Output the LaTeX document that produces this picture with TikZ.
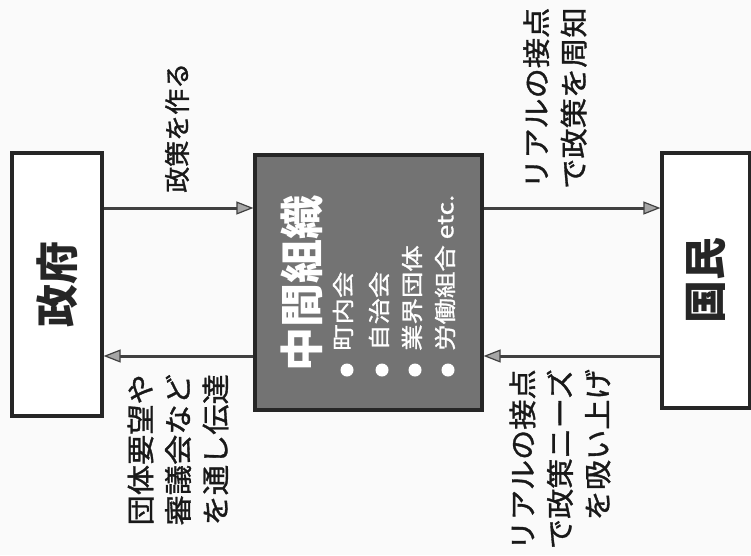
\documentclass[tikz,border=0pt]{standalone}
\usepackage{fontspec}
\usepackage{graphicx}
\usetikzlibrary{arrows.meta}
\newfontfamily\jp{Noto Sans CJK JP}
\newfontfamily\jpw[FakeStretch=1.08,FakeBold=1.2]{Noto Sans CJK JP}
\newfontfamily\jpv[FakeBold=1.2]{Noto Sans CJK JP}
\newfontfamily\jpi[FakeStretch=1.2,FakeBold=1]{Noto Sans CJK JP}
\begin{document}
\begin{tikzpicture}[x=1pt,y=-1pt]
\tikzset{
  box/.style={draw=black!85, line width=3.2pt, inner sep=0pt},
  arr/.style={draw=black!75, line width=3pt,
    -{Triangle[length=17pt,width=13pt,fill=black!35,line width=1.2pt]}},
  boxtext/.style={rotate=90, inner sep=0pt, text=black!85,
    font=\jp\bfseries\fontsize{43}{43}\selectfont},
  lbl/.style={rotate=90, inner sep=0pt, text=black!90,
    font=\jpw\fontsize{28}{37.5}\selectfont},
  item/.style={rotate=90, inner sep=0pt, anchor=west, text=white,
    font=\jpi\fontsize{22}{22}\selectfont},
  bullet/.style={fill=white}
}
\path[use as bounding box] (0,0) rectangle (751,555);
\fill[black!2] (0,0) rectangle (751,555);
% boxes
\node[box, fill=white, minimum width=90pt, minimum height=263pt] (gov) at (57,284.5) {};
\node[box, fill=black!55, minimum width=227pt, minimum height=255pt] (mid) at (368.5,282.5) {};
\node[box, fill=white, minimum width=88pt, minimum height=255pt] (ppl) at (706,280.5) {};
\node[boxtext] (govt) at (gov.center) {政府};
\node[boxtext] (pplt) at (ppl.center) {国民};
% centre box contents
\node[rotate=90, inner sep=0pt, anchor=west, text=white,
  font=\jp\bfseries\fontsize{44}{44}\selectfont] (title) at (302,372) {中間組織};
\node[item] (i1) at (343,351) {町内会};
\node[item] (i2) at (379,351) {自治会};
\node[item] (i3) at (412,351) {業界団体};
\node[item] (i4) at (445,351) {労働組合 etc.};
\fill[bullet] (347,370) circle (6.5pt);
\fill[bullet] (382,370) circle (6.5pt);
\fill[bullet] (415,370) circle (6.5pt);
\fill[bullet] (448,370) circle (6.5pt);
% arrow heights
\coordinate (hi) at (0,208);
\coordinate (lo) at (0,356);
\draw[arr] (gov.east |- hi) -- (mid.west |- hi);
\draw[arr] (mid.west |- lo) -- (gov.east |- lo);
\draw[arr] (mid.east |- hi) -- (ppl.west |- hi);
\draw[arr] (ppl.west |- lo) -- (mid.east |- lo);
% labels
\node[lbl, anchor=west, font=\jpv\fontsize{26}{26}\selectfont] (l1) at (177,193) {政策を作る};
\node[lbl, anchor=east, align=right] (l2) at (178,374) {団体要望や\\審議会など\\を通し伝達};
\node[lbl, anchor=west, align=left] (l3) at (555,189) {リアルの接点\\で政策を周知};
\node[lbl, anchor=east, align=right] (l4) at (560,369) {リアルの接点\\で政策ニーズ\\を吸い上げ};
\end{tikzpicture}
\end{document}
